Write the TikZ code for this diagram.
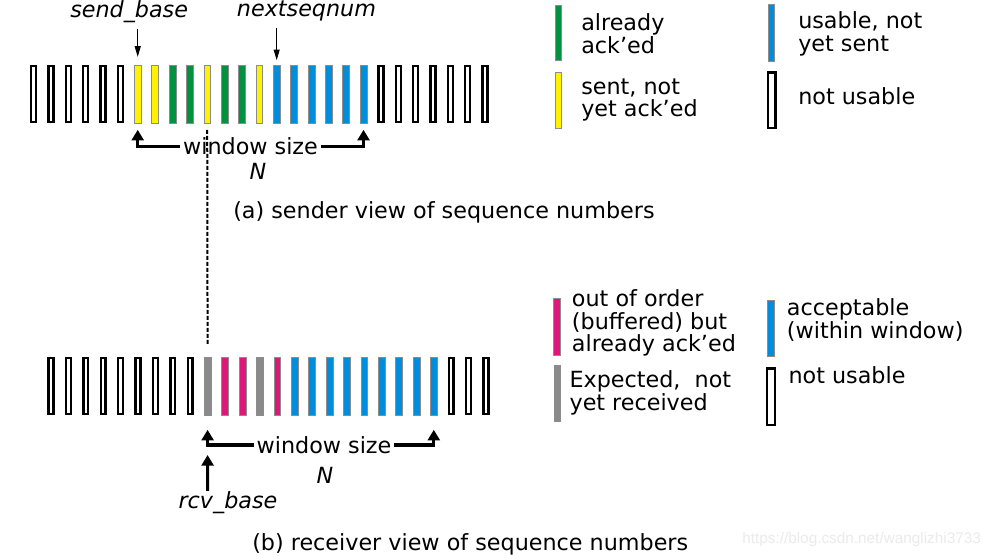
\documentclass[tikz,border=0pt]{standalone}
\usepackage{fontspec}
\setmainfont{DejaVu Sans}
\newfontfamily\markfont{Liberation Sans}
\usetikzlibrary{arrows.meta}

\definecolor{ackgreen}{RGB}{0,146,63}
\definecolor{sentyellow}{RGB}{255,242,0}
\definecolor{usableblue}{RGB}{0,141,222}
\definecolor{bufmagenta}{RGB}{222,24,122}
\definecolor{expgray}{RGB}{138,138,138}

\newcommand{\seqfont}{\fontsize{16.7}{17}\selectfont}

\tikzset{
  freebar/.style={draw=black, line width=1.8pt, fill=white, minimum width=3.7pt,
    minimum height=41.7pt, inner sep=0pt},
  seqbar/.style={draw=black!45, line width=0.4pt, minimum width=5.1pt,
    minimum height=43.3pt, inner sep=0pt},
  lbl/.style={inner sep=0pt, anchor=base west, align=left, font=\seqfont},
  itlbl/.style={lbl, font=\seqfont\itshape},
  winlbl/.style={inner sep=2pt, anchor=base, font=\seqfont},
  winarrow/.style={line width=2.4pt, -{Triangle[width=9pt,length=8pt]}},
  ptrarrow/.style={line width=0.8pt, -{Triangle[width=4.5pt,length=8pt]}},
}

\begin{document}
\begin{tikzpicture}[x=0.75pt, y=-0.75pt]
\fill[white] (0,0) rectangle (999,559);
\useasboundingbox (0,0) rectangle (999,559);

% sender row
\foreach \i in {1,...,6,21,22,...,27}
  \node[freebar] (s\i) at ({33.5+(\i-1)*17.37}, 94) {};
\foreach \i in {7,8,11,14}
  \node[seqbar, fill=sentyellow] (s\i) at ({33.5+(\i-1)*17.37}, 94) {};
\foreach \i in {9,10,12,13}
  \node[seqbar, fill=ackgreen] (s\i) at ({33.5+(\i-1)*17.37}, 94) {};
\foreach \i in {15,...,20}
  \node[seqbar, fill=usableblue] (s\i) at ({33.5+(\i-1)*17.37}, 94) {};

\node[itlbl] (sendbase) at (70, 17.3) {send\_base};
\node[itlbl] (nextseq) at (236.7, 17) {nextseqnum};
\draw[ptrarrow, shorten <=4.5pt, shorten >=6pt] (s7 |- sendbase.south) -- (s7.north);
\draw[ptrarrow, shorten <=4.5pt, shorten >=3.5pt] (s15 |- nextseq.south) -- (s15.north);

\node[winlbl] (swin) at (250.5, 155) {window size};
\node[itlbl, anchor=base] (sn) at (258, 180) {N};
\draw[winarrow, shorten >=5pt] (swin.west) -| (s7.south);
\draw[winarrow, shorten >=5pt] (swin.east) -| (s20.south);

\node[lbl] (capa) at (233, 219) {(a) sender view of sequence numbers};

% receiver row
\foreach \i in {1,...,9,24,25,26}
  \node[freebar] (r\i) at ({51+(\i-1)*17.4}, 386) {};
\foreach \i in {10,13}
  \node[seqbar, fill=expgray] (r\i) at ({51+(\i-1)*17.4}, 386) {};
\foreach \i in {11,12,14}
  \node[seqbar, fill=bufmagenta] (r\i) at ({51+(\i-1)*17.4}, 386) {};
\foreach \i in {15,...,23}
  \node[seqbar, fill=usableblue] (r\i) at ({51+(\i-1)*17.4}, 386) {};

% same number in both views
\draw[line width=1.5pt, dash pattern=on 3pt off 1.5pt, shorten <=5pt, shorten >=9pt]
  (s11.south) -- (r10.north);

\node[winlbl] (rwin) at (324, 453.3) {window size};
\node[itlbl, anchor=base] (rn) at (325, 483.3) {N};
\draw[winarrow, shorten >=11pt] (rwin.west) -| (r10.south);
\draw[winarrow, shorten >=11pt] (rwin.east) -| (r23.south);

\node[itlbl] (rcvbase) at (178.3, 508) {rcv\_base};
\coordinate (rtip) at (207.6, 455);
\draw[winarrow] (r10 |- rcvbase.north) -- (rtip);

\node[lbl] (capb) at (252, 550) {(b) receiver view of sequence numbers};

% sender legend (base = last line)
\node[seqbar, fill=ackgreen, minimum height=41.8pt] (kgreen) at (558.3, 32.8) {};
\node[lbl] at (581, 53.3) {already\\ack’ed};
\node[seqbar, fill=usableblue, minimum height=42.8pt] (kblue) at (771.3, 32.5) {};
\node[lbl] at (798, 51.5) {usable, not\\yet sent};
\node[seqbar, fill=sentyellow, minimum height=41.7pt] (kyellow) at (558.3, 100.5) {};
\node[lbl] at (581, 117) {sent, not\\yet ack’ed};
\node[freebar, minimum width=5.8pt, minimum height=41.7pt] (kfree) at (771.7, 100.5) {};
\node[lbl] at (798, 105) {not usable};

% receiver legend
\node[seqbar, fill=bufmagenta, minimum height=42.5pt] (kmag) at (557, 326.7) {};
\node[lbl] at (571.7, 351.7) {out of order\\(buffered) but\\already ack’ed};
\node[seqbar, fill=usableblue, minimum height=41.5pt] (kacc) at (771, 328.3) {};
\node[lbl] at (786.7, 338.3) {acceptable\\(within window)};
\node[seqbar, fill=expgray, minimum height=42.5pt] (kgray) at (557.3, 393.3) {};
\node[lbl] at (569.3, 410.5) {Expected,~ not\\yet received};
\node[freebar, minimum width=5.8pt, minimum height=42.3pt] (kfree2) at (771, 396.7) {};
\node[lbl] at (788.3, 383.3) {not usable};

\node[lbl, font=\markfont\fontsize{11.5}{12}\selectfont, text=black!8] (mark) at (742, 543.3)
  {https://blog.csdn.net/wanglizhi3733};
\end{tikzpicture}
\end{document}
